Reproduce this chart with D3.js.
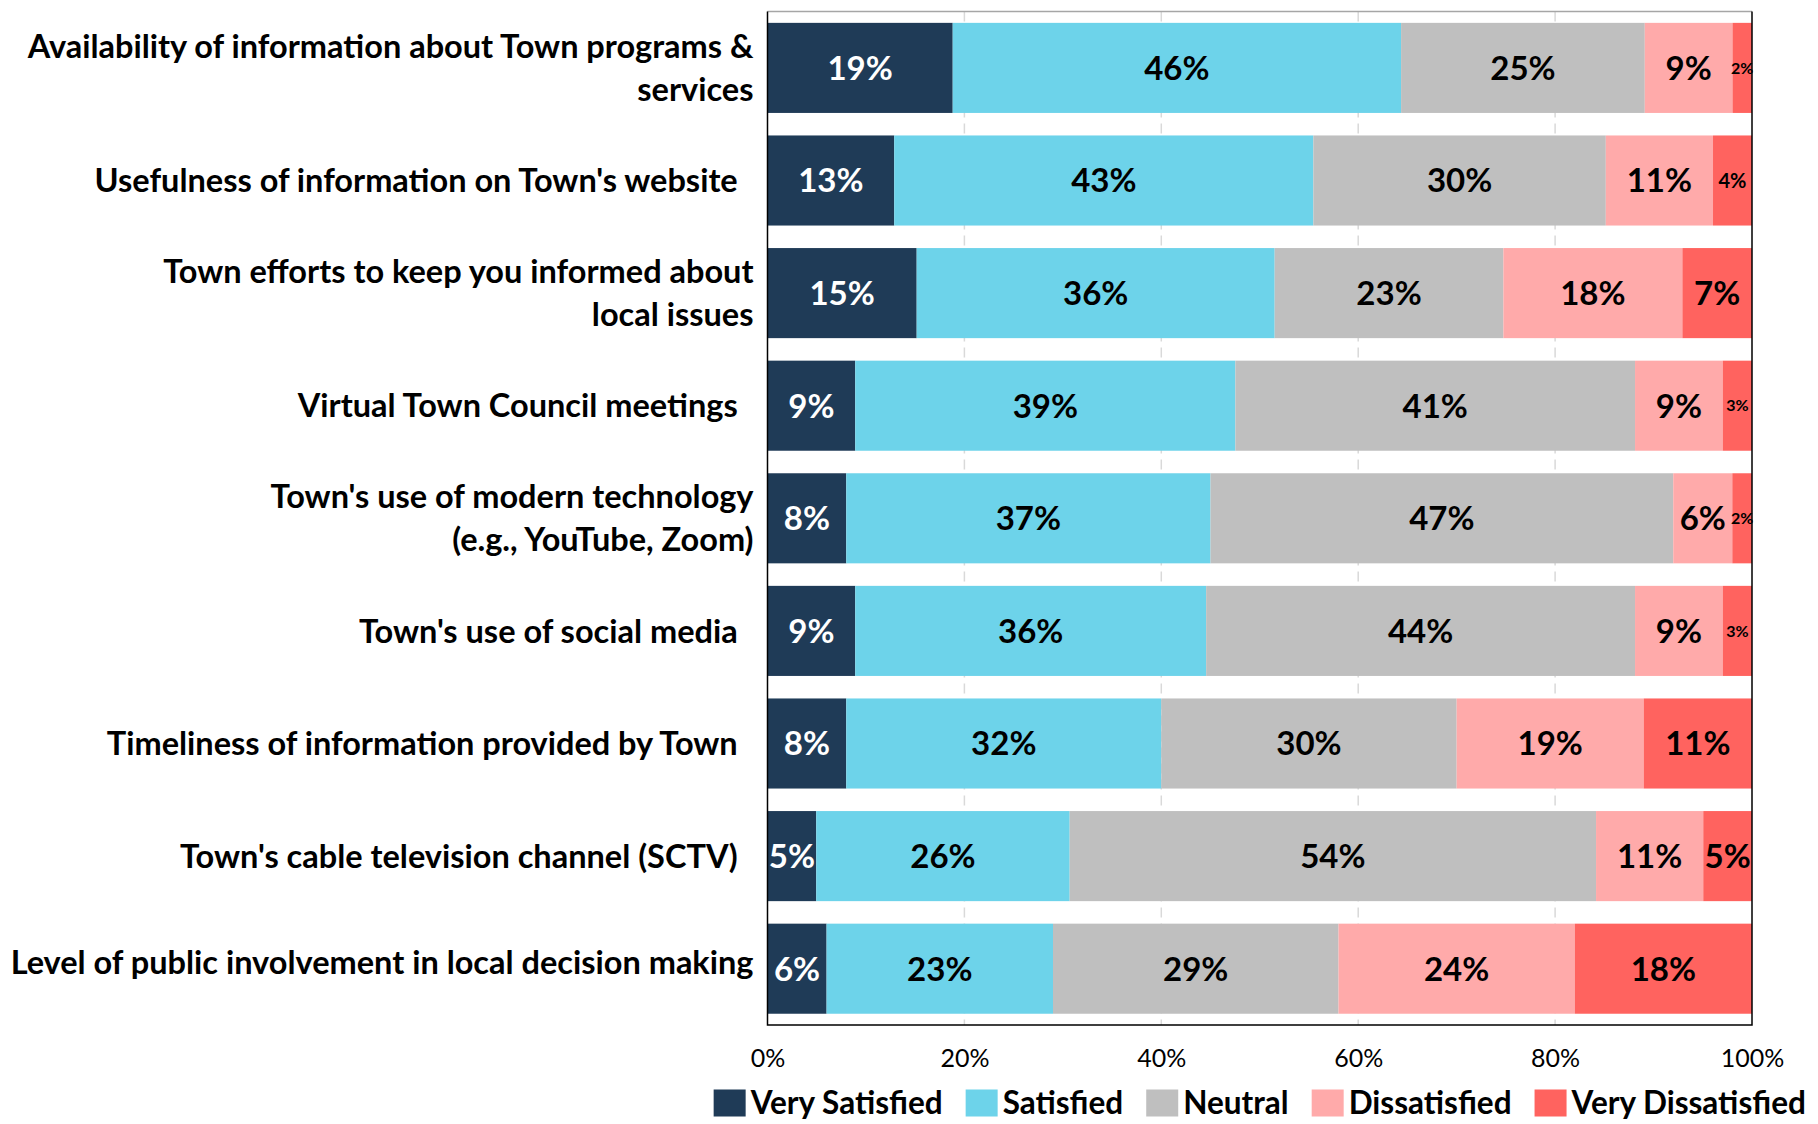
<!DOCTYPE html>
<html>
<head>
<meta charset="utf-8">
<script src="https://cdn.jsdelivr.net/npm/d3@7"></script>
<style>
  body { margin: 0; background: #fff; }
  svg { display: block; }
  text { font-family: Lato, "Open Sans", sans-serif; }
</style>
</head>
<body>
<svg id="chart" width="1818" height="1124"></svg>
<script>
// Survey items (line breaks mark where the label wraps; trailing spaces kept as in the source sheet)
const categories = [
  "Availability of information about Town programs &\nservices",
  "Usefulness of information on Town's website  ",
  "Town efforts to keep you informed about\nlocal issues",
  "Virtual Town Council meetings  ",
  "Town's use of modern technology\n(e.g., YouTube, Zoom)",
  "Town's use of social media  ",
  "Timeliness of information provided by Town  ",
  "Town's cable television channel (SCTV)  ",
  "Level of public involvement in local decision making"
];

// Percent of respondents per rating
const verySatisfied    = [19, 13, 15,  9,  8,  9,  8,  5,  6];
const satisfied        = [46, 43, 36, 39, 37, 36, 32, 26, 23];
const neutral          = [25, 30, 23, 41, 47, 44, 30, 54, 29];
const dissatisfied     = [ 9, 11, 18,  9,  6,  9, 19, 11, 24];
const veryDissatisfied = [ 2,  4,  7,  3,  2,  3, 11,  5, 18];

const seriesNames = ["Very Satisfied", "Satisfied", "Neutral", "Dissatisfied", "Very Dissatisfied"];
const seriesColors = ["#1f3b57", "#6dd3ea", "#bfbfbf", "#ffaaaa", "#ff635f"];
const tickValues = [0, 0.2, 0.4, 0.6, 0.8, 1];

const W = 1818, H = 1124;
const margin = { top: 11.6, right: 66, bottom: 99, left: 767.5 };
const plotW = W - margin.left - margin.right;
const plotH = H - margin.top - margin.bottom;

const svg = d3.select("#chart");
const g = svg.append("g").attr("transform", `translate(${margin.left},${margin.top})`);

const seriesValues = [verySatisfied, satisfied, neutral, dissatisfied, veryDissatisfied];
const rows = categories.map((c, i) => {
  const r = { category: c };
  seriesNames.forEach((s, k) => { r[s] = seriesValues[k][i]; });
  return r;
});

// 100% stacked layout
const stacked = d3.stack().keys(seriesNames).offset(d3.stackOffsetExpand)(rows);

const x = d3.scaleLinear().domain([0, 1]).range([0, plotW]);
const y = d3.scaleBand().domain(categories).range([0, plotH]).paddingInner(0.2).paddingOuter(0.1);
const color = d3.scaleOrdinal().domain(seriesNames).range(seriesColors);

// dashed gridlines
g.append("g").selectAll("line")
  .data(tickValues.filter(v => v > 0 && v < 1))
  .join("line")
  .attr("x1", d => x(d)).attr("x2", d => x(d))
  .attr("y1", 0).attr("y2", plotH)
  .attr("stroke", "#d9d9d9").attr("stroke-width", 1.5)
  .attr("stroke-dasharray", "10,6");

// bars
const layers = g.append("g").selectAll("g")
  .data(stacked)
  .join("g")
  .attr("fill", d => color(d.key));

layers.selectAll("rect")
  .data(d => d)
  .join("rect")
  .attr("x", d => x(d[0]))
  .attr("y", d => y(d.data.category))
  .attr("width", d => x(d[1]) - x(d[0]))
  .attr("height", y.bandwidth());

// value labels
const labelSize = v => v <= 3 ? 16 : (v === 4 ? 20 : 33);
g.append("g").selectAll("g")
  .data(stacked)
  .join("g")
  .attr("fill", d => d.key === "Very Satisfied" ? "#ffffff" : "#000000")
  .each(function(layer) {
    d3.select(this).selectAll("text")
      .data(layer)
      .join("text")
      .attr("x", d => (x(d[0]) + x(d[1])) / 2)
      .attr("y", d => y(d.data.category) + y.bandwidth() / 2)
      .attr("dy", "0.36em")
      .attr("text-anchor", "middle")
      .attr("font-weight", 700)
      .attr("font-size", d => labelSize(d.data[layer.key]))
      .text(d => d.data[layer.key] + "%");
  });

// plot frame
g.append("line").attr("x1", 0).attr("x2", plotW).attr("y1", 0).attr("y2", 0)
  .attr("stroke", "#a6a6a6").attr("stroke-width", 1.5);
g.append("path")
  .attr("d", `M0,0V${plotH}H${plotW}V0`)
  .attr("fill", "none").attr("stroke", "#000").attr("stroke-width", 1.5);

// category labels
const catG = g.append("g");
categories.forEach((c, idx) => {
  const lines = c.split("\n");
  // the last, longest single-line label sits slightly high in its band
  const cy = y(c) + y.bandwidth() / 2 - (idx === categories.length - 1 ? 6 : 0);
  const lh = 43;
  const t = catG.append("text")
    .attr("text-anchor", "end")
    .attr("font-weight", 700)
    .attr("font-size", 32.5)
    .attr("fill", "#000")
    .style("white-space", "pre");
  lines.forEach((ln, i) => {
    t.append("tspan")
      .attr("x", -14)
      .attr("y", cy + (i - (lines.length - 1) / 2) * lh)
      .attr("dy", "0.36em")
      .text(ln);
  });
});

// x axis
const xAxis = d3.axisBottom(x).tickValues(tickValues).tickFormat(d3.format(".0%")).tickSize(0).tickPadding(0);
const ax = g.append("g").attr("transform", `translate(0,${plotH + 33})`).call(xAxis);
ax.select(".domain").remove();
ax.selectAll("text")
  .attr("font-size", 25)
  .attr("font-family", "Lato, 'Open Sans', sans-serif")
  .attr("fill", "#000")
  .attr("dy", "0.36em")
  .attr("y", 0);

// legend, centred under the plot area
const legend = svg.append("g");
const sq = { w: 32, h: 27 }, gapText = 5, gapItem = 23;
const items = legend.selectAll("g").data(seriesNames).join("g");
items.append("rect").attr("width", sq.w).attr("height", sq.h).attr("y", -sq.h / 2)
  .attr("fill", d => color(d));
items.append("text")
  .attr("x", sq.w + gapText)
  .attr("dy", "0.36em")
  .attr("font-weight", 700)
  .attr("font-size", 31.5)
  .attr("fill", "#000")
  .text(d => d);
const widths = [];
items.each(function() {
  const w = sq.w + gapText + d3.select(this).select("text").node().getComputedTextLength();
  widths.push(w);
});
const total = d3.sum(widths) + gapItem * (widths.length - 1);
const startX = margin.left + plotW / 2 - total / 2;
items.attr("transform", (d, i) => {
  const tx = startX + d3.sum(widths.slice(0, i)) + gapItem * i;
  return `translate(${tx},1103)`;
});
</script>
</body>
</html>
